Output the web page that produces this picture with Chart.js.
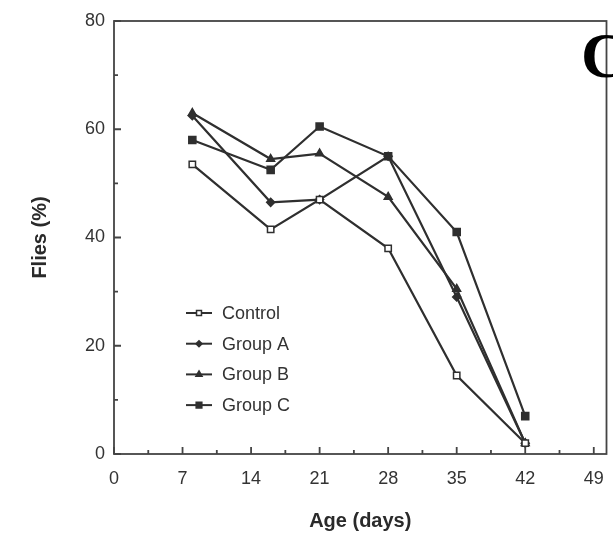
<!DOCTYPE html>
<html>
<head>
<meta charset="utf-8">
<script src="https://cdn.jsdelivr.net/npm/chart.js@4"></script>
<style>
html,body{margin:0;padding:0;background:#fff;}
#wrap{width:613px;height:537px;}
</style>
</head>
<body>
<div id="wrap"><canvas id="chartF" width="613" height="537"></canvas></div>
<script>
var days=[8,16,21,28,35,42];
var control=[53.5,41.5,47,38,14.5,2];
var groupA=[62.5,46.5,47,55,29,2];
var groupB=[63,54.5,55.5,47.5,30.5,2];
var groupC=[58,52.5,60.5,55,41,7];
var xTicks=[0,7,14,21,28,35,42,49];
var yTicks=[0,20,40,60,80];
var lineCol='#2f2f2f';

function pts(vals){
    var out=[];
    for(var i=0;i<days.length;i++){ out.push({x:days[i],y:vals[i]}); }
    return out;
}

// frame, inward ticks, panel letter and the in-plot legend
var extras={
    id:'extras',
    afterDatasetsDraw:function(chart){
        var c=chart.ctx, a=chart.chartArea, sx=chart.scales.x, sy=chart.scales.y;
        c.save();
        c.strokeStyle='#444';
        c.lineWidth=1.8;
        c.strokeRect(a.left,a.top,a.right-a.left,a.bottom-a.top);
        c.beginPath();
        for(var d=0;d<=49;d+=3.5){
            var px=sx.getPixelForValue(d);
            var len=(d%7==0)?7:4;
            c.moveTo(px,a.bottom); c.lineTo(px,a.bottom-len);
        }
        for(var v=0;v<=80;v+=10){
            var py=sy.getPixelForValue(v);
            var ln=(v%20==0)?7:4;
            c.moveTo(a.left,py); c.lineTo(a.left+ln,py);
        }
        c.stroke();

        // legend
        var lx=186, ly=313, gap=30.7;
        c.font='18px "Liberation Sans", Arial, sans-serif';
        c.textBaseline='middle';
        chart.data.datasets.forEach(function(ds,i){
            var y=ly+i*gap;
            c.strokeStyle=lineCol; c.lineWidth=2;
            c.beginPath(); c.moveTo(lx,y); c.lineTo(lx+26,y); c.stroke();
            c.fillStyle=ds.pointBackgroundColor; c.strokeStyle=lineCol; c.lineWidth=1.5;
            Chart.helpers.drawPoint(c,{pointStyle:ds.pointStyle,radius:ds.pointRadius-1,borderWidth:1.5,rotation:0},lx+13,y);
            c.fillStyle='#333';
            c.fillText(ds.label,lx+36,y+1);
        });

        // panel letter, cut by the page edge
        c.fillStyle='#000';
        c.font='bold 64px "Liberation Serif", "Times New Roman", serif';
        c.textBaseline='alphabetic';
        c.fillText('C',581,77);
        c.restore();
    }
};

var ctx=document.getElementById('chartF');
var chartF=new Chart(ctx,{
    type:'line',
    data:{
        datasets:[{
            label:'Control',
            data:pts(control),
            borderColor:lineCol,
            pointBackgroundColor:'#fff',
            pointBorderColor:lineCol,
            pointStyle:'rect',
            pointRadius:4.5,
        },{
            label:'Group A',
            data:pts(groupA),
            borderColor:lineCol,
            pointBackgroundColor:lineCol,
            pointBorderColor:lineCol,
            pointStyle:'rectRot',
            pointRadius:4,
        },{
            label:'Group B',
            data:pts(groupB),
            borderColor:lineCol,
            pointBackgroundColor:lineCol,
            pointBorderColor:lineCol,
            pointStyle:'triangle',
            pointRadius:4.5,
        },{
            label:'Group C',
            data:pts(groupC),
            borderColor:lineCol,
            pointBackgroundColor:lineCol,
            pointBorderColor:lineCol,
            pointStyle:'rect',
            pointRadius:5,
        }]
    },
    options:{
        responsive:false,
        animation:false,
        devicePixelRatio:1,
        elements:{line:{borderWidth:2.2,tension:0},point:{borderWidth:1.5}},
        layout:{padding:{left:24,right:5,top:21,bottom:0}},
        plugins:{legend:{display:false},tooltip:{enabled:false}},
        scales:{
            x:{
                type:'linear',min:0,max:50.3,
                border:{display:false},
                grid:{display:false,drawTicks:false},
                afterBuildTicks:function(s){ s.ticks=xTicks.map(function(v){return {value:v};}); },
                afterFit:function(s){ s.height=83; s.paddingRight=0; s.paddingLeft=0; },
                ticks:{color:'#333',padding:14,font:{size:18,family:'"Liberation Sans", Arial, sans-serif'}},
                title:{display:true,text:'Age (days)',color:'#2a2a2a',padding:{top:4},font:{size:20,weight:'bold',family:'"Liberation Sans", Arial, sans-serif'}}
            },
            y:{
                type:'linear',min:0,max:80,
                border:{display:false},
                grid:{display:false,drawTicks:false},
                afterBuildTicks:function(s){ s.ticks=yTicks.map(function(v){return {value:v};}); },
                afterFit:function(s){ s.width=90; s.paddingTop=0; s.paddingBottom=0; },
                ticks:{color:'#333',padding:9,font:{size:18,family:'"Liberation Sans", Arial, sans-serif'}},
                title:{display:true,text:'Flies (%)',color:'#2a2a2a',padding:{bottom:0},font:{size:20,weight:'bold',family:'"Liberation Sans", Arial, sans-serif'}}
            }
        }
    },
    plugins:[extras]
});
</script>
</body>
</html>
